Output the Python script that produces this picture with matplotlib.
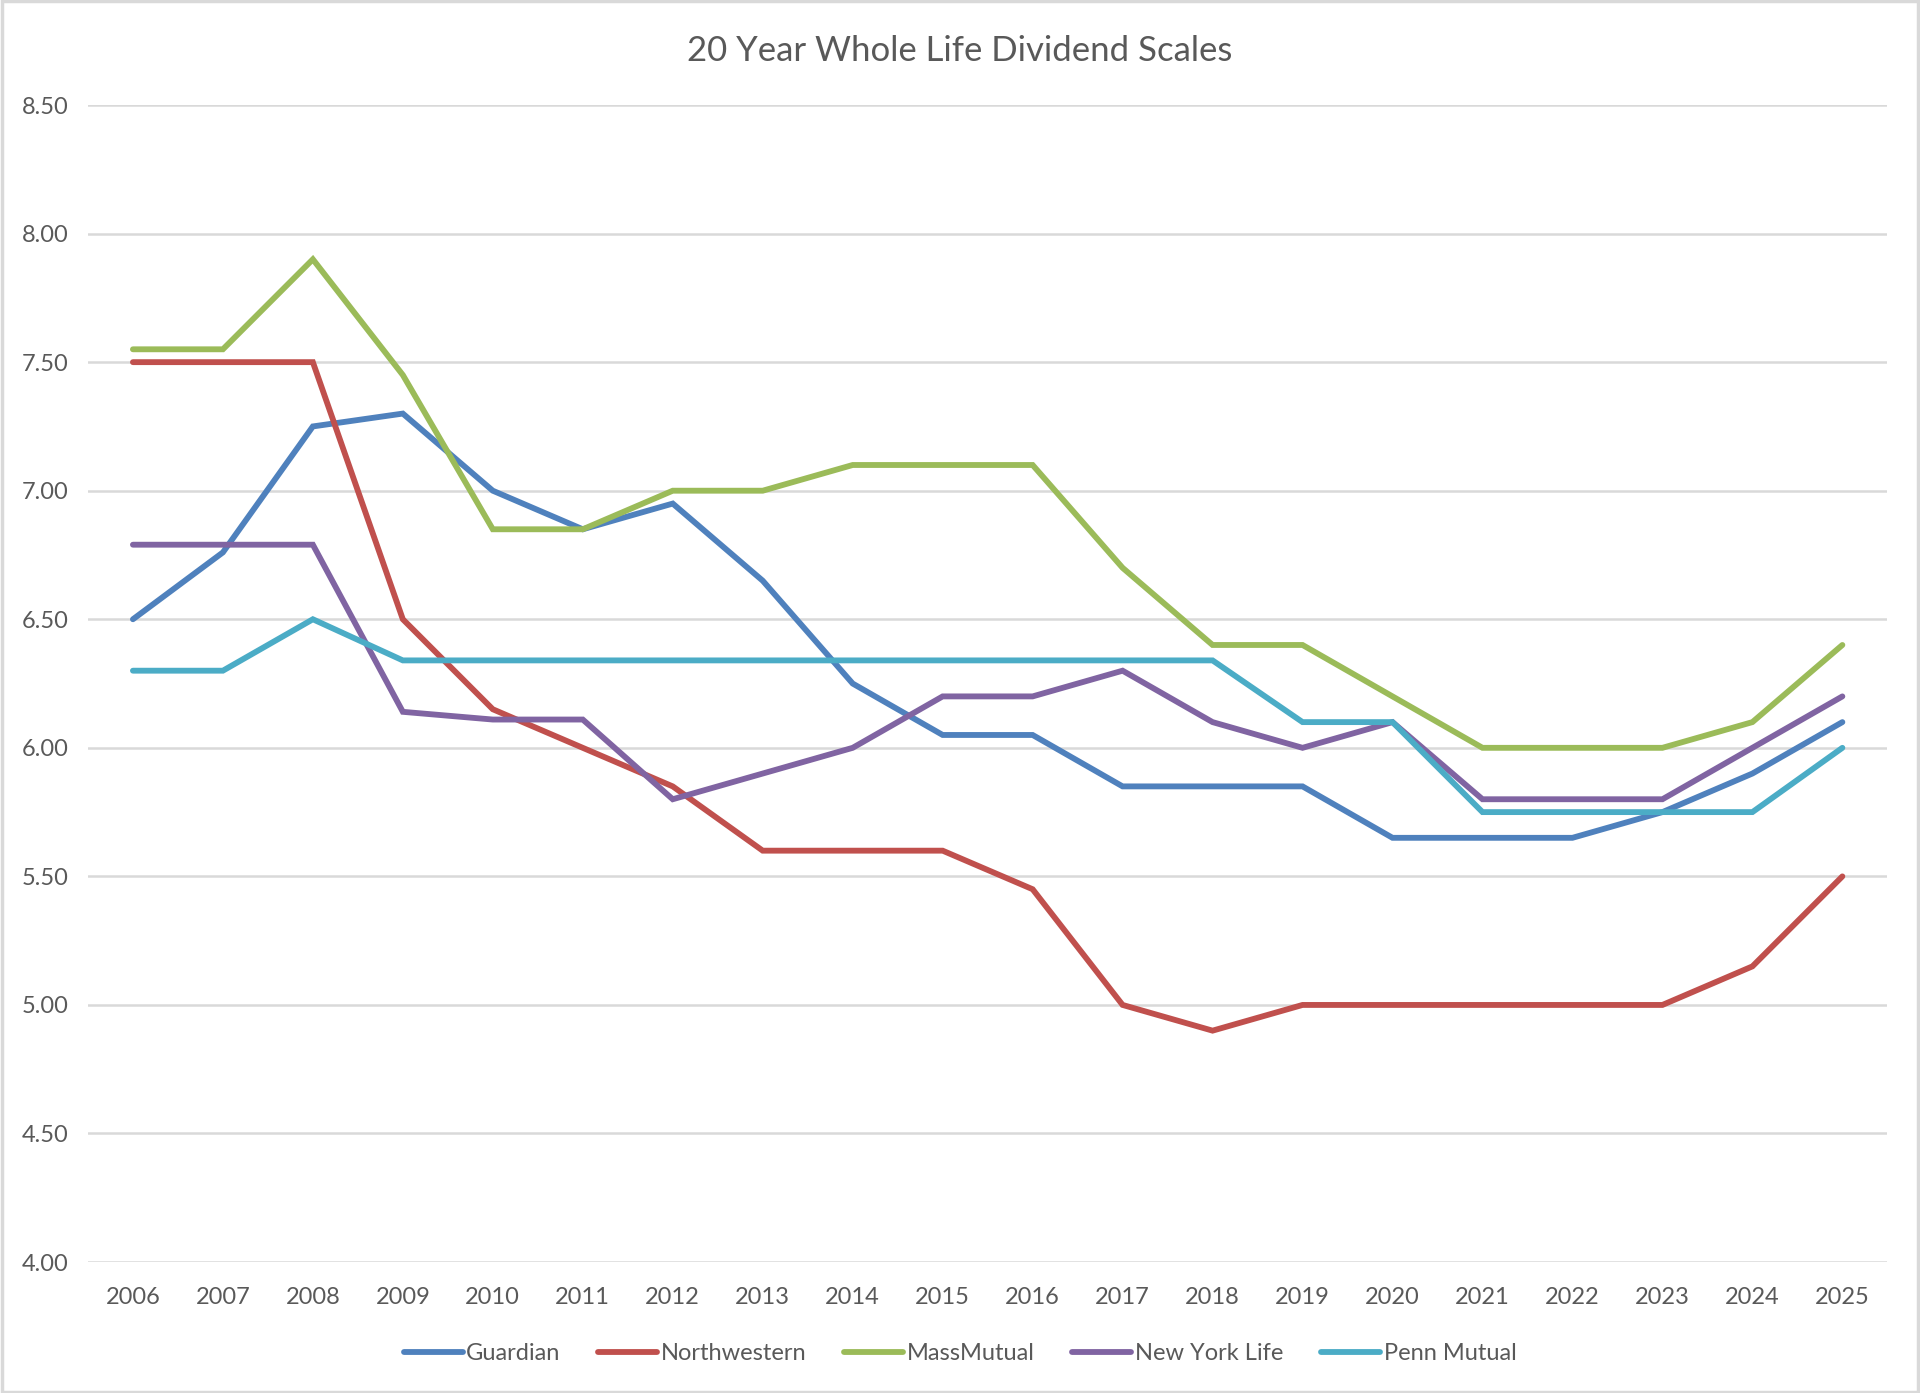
import matplotlib
matplotlib.use("Agg")
import matplotlib.pyplot as plt
from matplotlib.patches import Rectangle

years = [str(y) for y in range(2006, 2026)]

guardian = [6.50, 6.76, 7.25, 7.30, 7.00, 6.85, 6.95, 6.65, 6.25, 6.05,
            6.05, 5.85, 5.85, 5.85, 5.65, 5.65, 5.65, 5.75, 5.90, 6.10]
northwestern = [7.50, 7.50, 7.50, 6.50, 6.15, 6.00, 5.85, 5.60, 5.60, 5.60,
                5.45, 5.00, 4.90, 5.00, 5.00, 5.00, 5.00, 5.00, 5.15, 5.50]
massmutual = [7.55, 7.55, 7.90, 7.45, 6.85, 6.85, 7.00, 7.00, 7.10, 7.10,
              7.10, 6.70, 6.40, 6.40, 6.20, 6.00, 6.00, 6.00, 6.10, 6.40]
new_york_life = [6.79, 6.79, 6.79, 6.14, 6.11, 6.11, 5.80, 5.90, 6.00, 6.20,
                 6.20, 6.30, 6.10, 6.00, 6.10, 5.80, 5.80, 5.80, 6.00, 6.20]
penn_mutual = [6.30, 6.30, 6.50, 6.34, 6.34, 6.34, 6.34, 6.34, 6.34, 6.34,
               6.34, 6.34, 6.34, 6.10, 6.10, 5.75, 5.75, 5.75, 5.75, 6.00]

series_names = ["Guardian", "Northwestern", "MassMutual", "New York Life", "Penn Mutual"]
series_values = [guardian, northwestern, massmutual, new_york_life, penn_mutual]
colors = ["#4F81BD", "#C0504D", "#9BBB59", "#8064A2", "#4BACC6"]

text_color = "#595959"
plt.rcParams["font.family"] = ["Lato", "DejaVu Sans"]

fig = plt.figure(figsize=(19.2, 13.93), dpi=100)
ax = fig.add_axes([0.0458, 0.094, 0.9372, 0.8306])

x = range(len(years))
for name, vals, c in zip(series_names, series_values, colors):
    ax.plot(x, vals, color=c, linewidth=4.2, label=name,
            solid_capstyle="round", solid_joinstyle="miter")

ax.set_xlim(-0.5, len(years) - 0.5)
ax.set_ylim(4.0, 8.5)
ax.set_yticks([4.0 + 0.5 * i for i in range(10)])
ax.set_yticklabels([f"{4.0 + 0.5 * i:.2f}" for i in range(10)])
ax.set_xticks(list(x))
ax.set_xticklabels(years)

ax.grid(axis="y", color="#D9D9D9", linewidth=1.8)
ax.set_axisbelow(True)
for s in ax.spines.values():
    s.set_visible(False)
ax.tick_params(axis="both", length=0, labelsize=17, colors=text_color)
ax.tick_params(axis="x", pad=18)
ax.tick_params(axis="y", pad=14)

fig.suptitle("20 Year Whole Life Dividend Scales", y=0.975, fontsize=25,
             color=text_color)

fig.legend(loc="center", bbox_to_anchor=(0.5, 0.028), ncol=5, frameon=False,
           fontsize=17, handlelength=2.5, handletextpad=0.15, columnspacing=1.6,
           labelcolor=text_color)

fig.patches.append(Rectangle((0.001, 0.001), 0.998, 0.998, transform=fig.transFigure,
                             fill=False, edgecolor="#D9D9D9", linewidth=2.5))

fig.savefig("out.png", dpi=100, facecolor="white")
